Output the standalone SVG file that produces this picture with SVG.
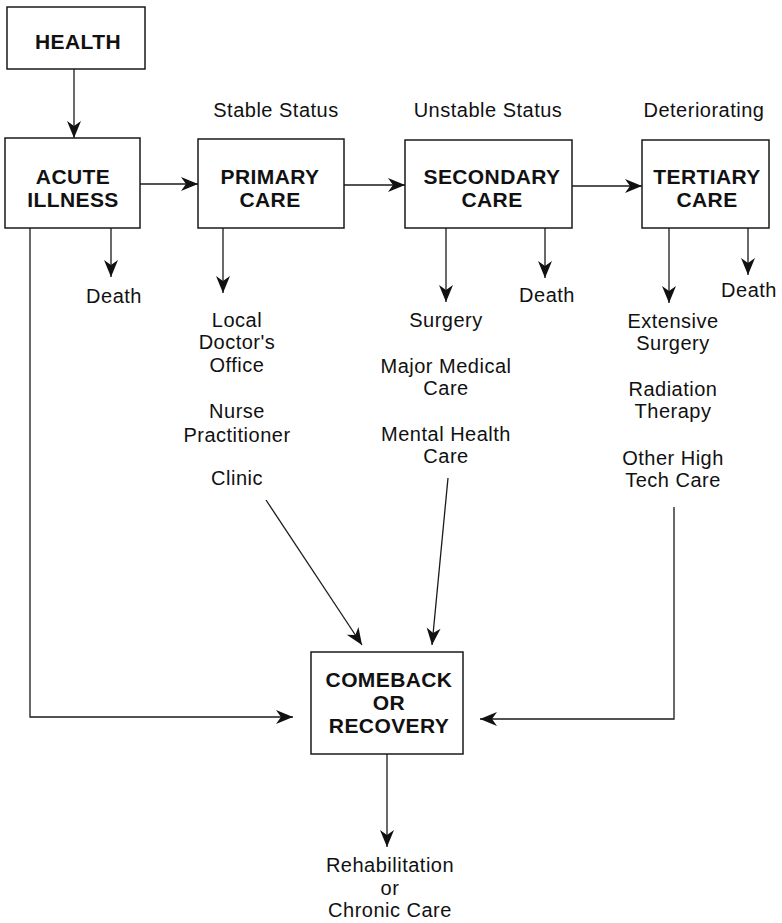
<svg xmlns="http://www.w3.org/2000/svg" width="782" height="923" viewBox="0 0 782 923">
  <style>
    .box { fill: #fff; stroke: #1a1a1a; stroke-width: 1.5; }
    .title { font-family: "Liberation Sans", Arial, sans-serif; font-weight: bold; font-size: 21px; letter-spacing: 0.4px; fill: #111; text-anchor: middle; }
    .label { font-family: "Liberation Sans", Arial, sans-serif; font-size: 20px; letter-spacing: 0.5px; fill: #111; text-anchor: middle; }
    .wire { fill: none; stroke: #1a1a1a; stroke-width: 1.3; }
  </style>
  <defs>
    <marker id="head" markerUnits="userSpaceOnUse" markerWidth="20" markerHeight="16" refX="0" refY="0" viewBox="-18 -8 19 16" orient="auto" overflow="visible">
      <path d="M0,0 L-17,-7 L-12,0 L-17,7 Z" fill="#111"/>
    </marker>
  </defs>

  <rect width="782" height="923" fill="#fff"/>

  <!-- status headings -->
  <g id="headings">
    <text class="label" x="276" y="117">Stable Status</text>
    <text class="label" x="488" y="117">Unstable Status</text>
    <text class="label" x="704" y="117">Deteriorating</text>
  </g>

  <!-- connectors -->
  <g id="connectors">
    <line class="wire" x1="74" y1="69" x2="74" y2="138" marker-end="url(#head)"/>
    <line class="wire" x1="140" y1="184" x2="198" y2="184" marker-end="url(#head)"/>
    <line class="wire" x1="344" y1="185" x2="405" y2="185" marker-end="url(#head)"/>
    <line class="wire" x1="572" y1="186" x2="642" y2="186" marker-end="url(#head)"/>
    <line class="wire" x1="111" y1="228" x2="111" y2="277" marker-end="url(#head)"/>
    <line class="wire" x1="223" y1="228" x2="223" y2="293" marker-end="url(#head)"/>
    <line class="wire" x1="446" y1="228" x2="446" y2="302" marker-end="url(#head)"/>
    <line class="wire" x1="545" y1="228" x2="545" y2="278" marker-end="url(#head)"/>
    <line class="wire" x1="669" y1="228" x2="669" y2="303" marker-end="url(#head)"/>
    <line class="wire" x1="748" y1="228" x2="748" y2="275" marker-end="url(#head)"/>
    <path class="wire" d="M30,228 V717 H293" marker-end="url(#head)"/>
    <line class="wire" x1="266" y1="500" x2="362" y2="645" marker-end="url(#head)"/>
    <line class="wire" x1="448" y1="478" x2="432" y2="645" marker-end="url(#head)"/>
    <path class="wire" d="M674,507 V719 H480" marker-end="url(#head)"/>
    <line class="wire" x1="387" y1="754" x2="387" y2="847" marker-end="url(#head)"/>
  </g>

  <!-- boxed stages -->
  <g id="health">
    <rect class="box" x="7" y="7" width="138" height="62"/>
    <text class="title" x="78" y="49">HEALTH</text>
  </g>
  <g id="acute-illness">
    <rect class="box" x="5" y="138" width="135" height="90"/>
    <text class="title" x="73" y="184">ACUTE</text>
    <text class="title" x="73" y="207">ILLNESS</text>
  </g>
  <g id="primary-care">
    <rect class="box" x="198" y="139" width="146" height="89"/>
    <text class="title" x="270" y="184">PRIMARY</text>
    <text class="title" x="270" y="207">CARE</text>
  </g>
  <g id="secondary-care">
    <rect class="box" x="405" y="140" width="167" height="88"/>
    <text class="title" x="492" y="184">SECONDARY</text>
    <text class="title" x="492" y="207">CARE</text>
  </g>
  <g id="tertiary-care">
    <rect class="box" x="642" y="140" width="127" height="88"/>
    <text class="title" x="707" y="184">TERTIARY</text>
    <text class="title" x="707" y="207">CARE</text>
  </g>
  <g id="comeback">
    <rect class="box" x="311" y="652" width="152" height="102"/>
    <text class="title" x="389" y="687">COMEBACK</text>
    <text class="title" x="389" y="710">OR</text>
    <text class="title" x="389" y="733">RECOVERY</text>
  </g>

  <!-- outcome labels -->
  <g id="death-acute">
    <text class="label" x="114" y="303">Death</text>
  </g>
  <g id="primary-options">
    <text class="label" x="237" y="327">Local</text>
    <text class="label" x="237" y="349">Doctor's</text>
    <text class="label" x="237" y="372">Office</text>
    <text class="label" x="237" y="418">Nurse</text>
    <text class="label" x="237" y="442">Practitioner</text>
    <text class="label" x="237" y="485">Clinic</text>
  </g>
  <g id="secondary-options">
    <text class="label" x="446" y="327">Surgery</text>
    <text class="label" x="446" y="373">Major Medical</text>
    <text class="label" x="446" y="395">Care</text>
    <text class="label" x="446" y="441">Mental Health</text>
    <text class="label" x="446" y="463">Care</text>
  </g>
  <g id="death-secondary">
    <text class="label" x="547" y="302">Death</text>
  </g>
  <g id="tertiary-options">
    <text class="label" x="673" y="328">Extensive</text>
    <text class="label" x="673" y="350">Surgery</text>
    <text class="label" x="673" y="396">Radiation</text>
    <text class="label" x="673" y="418">Therapy</text>
    <text class="label" x="673" y="465">Other High</text>
    <text class="label" x="673" y="487">Tech Care</text>
  </g>
  <g id="death-tertiary">
    <text class="label" x="749" y="297">Death</text>
  </g>
  <g id="rehabilitation">
    <text class="label" x="390" y="872">Rehabilitation</text>
    <text class="label" x="390" y="895">or</text>
    <text class="label" x="390" y="917">Chronic Care</text>
  </g>
</svg>
